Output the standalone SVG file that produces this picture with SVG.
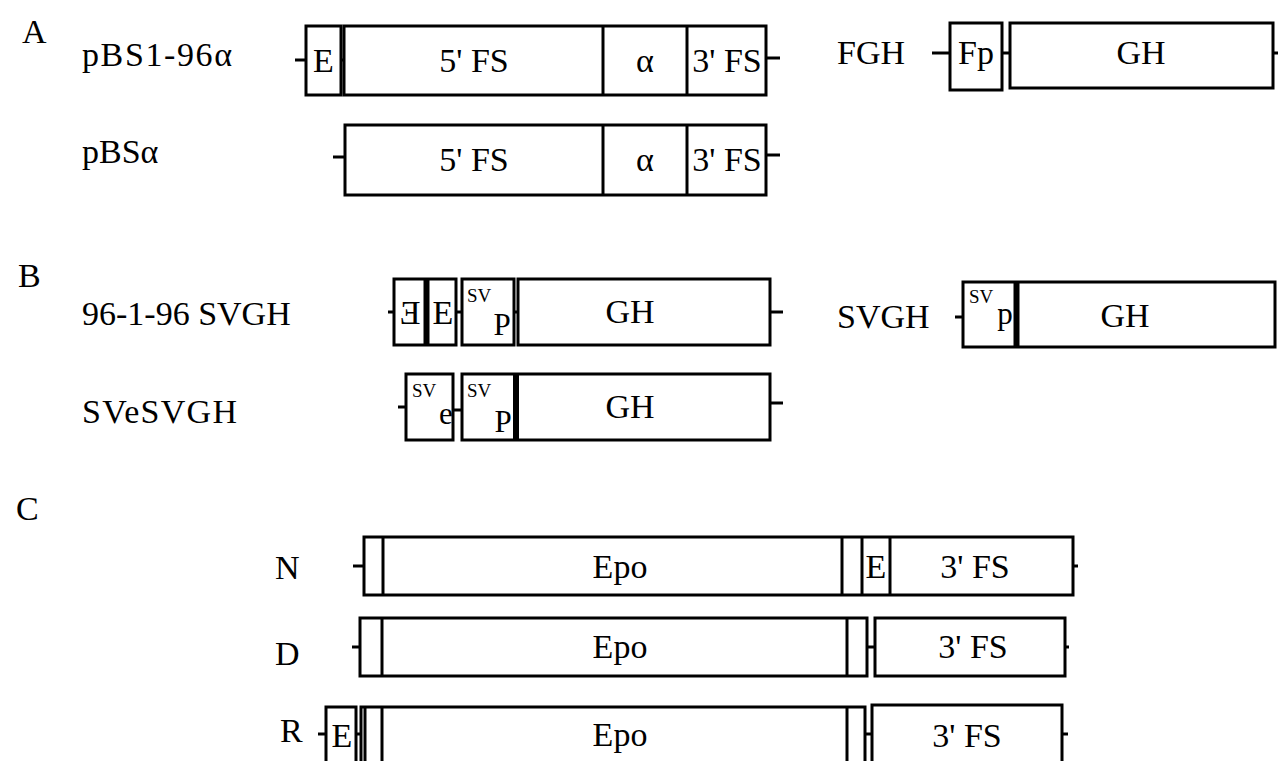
<svg xmlns="http://www.w3.org/2000/svg" width="1278" height="761" viewBox="0 0 1278 761">
<style>
rect.b{fill:#fff;stroke:#000;stroke-width:3}
line.d{stroke:#000;stroke-width:3}
line.t{stroke:#000;stroke-width:6}
line.s{stroke:#000;stroke-width:3}
text{font-family:"Liberation Serif","Times New Roman",serif;font-size:34px;fill:#000}
text.m{text-anchor:middle}
text.sm{font-size:19px}
text.sub{font-size:31px}
</style>
<rect width="1278" height="761" fill="#fff"/>
<g id="section-labels">
<text x="22" y="43">A</text>
<text x="18" y="287">B</text>
<text x="16" y="520">C</text>
</g>
<g id="connectors">
<line class="s" x1="295" y1="60" x2="306" y2="60"/>
<line class="s" x1="341" y1="60" x2="344" y2="60"/>
<line class="s" x1="766" y1="58" x2="780" y2="58"/>
<line class="s" x1="333" y1="157" x2="345" y2="157"/>
<line class="s" x1="766" y1="155" x2="780" y2="155"/>
<line class="s" x1="932" y1="53" x2="950" y2="53"/>
<line class="s" x1="1002" y1="53" x2="1010" y2="53"/>
<line class="s" x1="1273" y1="53" x2="1278" y2="53"/>
<line class="s" x1="388" y1="312" x2="394" y2="312"/>
<line class="s" x1="456" y1="312" x2="462" y2="312"/>
<line class="s" x1="514" y1="312" x2="518" y2="312"/>
<line class="s" x1="770" y1="312" x2="783" y2="312"/>
<line class="s" x1="398" y1="407" x2="406" y2="407"/>
<line class="s" x1="453" y1="410" x2="462" y2="410"/>
<line class="s" x1="770" y1="403" x2="783" y2="403"/>
<line class="s" x1="955" y1="317" x2="963" y2="317"/>
<line class="s" x1="353" y1="566" x2="364" y2="566"/>
<line class="s" x1="1073" y1="566" x2="1078" y2="566"/>
<line class="s" x1="352" y1="647" x2="360" y2="647"/>
<line class="s" x1="867" y1="647" x2="875" y2="647"/>
<line class="s" x1="1065" y1="647" x2="1069" y2="647"/>
<line class="s" x1="318" y1="734" x2="326" y2="734"/>
<line class="s" x1="356" y1="734" x2="361" y2="734"/>
<line class="s" x1="865" y1="734" x2="872" y2="734"/>
<line class="s" x1="1062" y1="734" x2="1068" y2="734"/>
</g>
<g id="pBS1-96a">
<text x="82" y="66" textLength="150" lengthAdjust="spacing">pBS1-96α</text>
<rect class="b" x="306" y="26" width="35" height="69"/>
<rect class="b" x="344" y="26" width="422" height="69"/>
<line class="d" x1="603" y1="26" x2="603" y2="95"/>
<line class="d" x1="687" y1="26" x2="687" y2="95"/>
<text class="m" x="323.5" y="72">E</text>
<text class="m" x="474" y="72">5' FS</text>
<text class="m" x="645" y="72">α</text>
<text class="m" x="727" y="72">3' FS</text>
</g>
<g id="pBSa">
<text x="82" y="163">pBSα</text>
<rect class="b" x="345" y="125" width="421" height="70"/>
<line class="d" x1="603" y1="125" x2="603" y2="195"/>
<line class="d" x1="687" y1="125" x2="687" y2="195"/>
<text class="m" x="474" y="171">5' FS</text>
<text class="m" x="645" y="171">α</text>
<text class="m" x="727" y="171">3' FS</text>
</g>
<g id="FGH">
<text x="837" y="64">FGH</text>
<rect class="b" x="950" y="23" width="52" height="67"/>
<rect class="b" x="1010" y="23" width="263" height="65"/>
<text class="m" x="976" y="64">Fp</text>
<text class="m" x="1141" y="64">GH</text>
</g>
<g id="96-1-96SVGH">
<text x="82" y="325">96-1-96 SVGH</text>
<rect class="b" x="394" y="279" width="62" height="66"/>
<line class="t" x1="426.5" y1="279" x2="426.5" y2="345"/>
<text class="m" transform="translate(410,324) scale(-1,1)">E</text>
<text class="m" x="443" y="324">E</text>
<rect class="b" x="462" y="279" width="52" height="66"/>
<text class="sm" x="467" y="302">SV</text>
<text class="sub m" x="502" y="335">P</text>
<rect class="b" x="518" y="279" width="252" height="66"/>
<text class="m" x="630" y="323">GH</text>
</g>
<g id="SVeSVGH">
<text x="82" y="423" textLength="155" lengthAdjust="spacing">SVeSVGH</text>
<rect class="b" x="406" y="374" width="47" height="66"/>
<text class="sm" x="412" y="397">SV</text>
<text class="sub m" x="446" y="424">e</text>
<rect class="b" x="462" y="374" width="308" height="66"/>
<line class="t" x1="516" y1="374" x2="516" y2="440"/>
<text class="sm" x="467" y="397">SV</text>
<text class="sub m" x="503" y="432">P</text>
<text class="m" x="630" y="418">GH</text>
</g>
<g id="SVGH">
<text x="837" y="328">SVGH</text>
<rect class="b" x="963" y="282" width="312" height="65"/>
<line class="t" x1="1016.5" y1="282" x2="1016.5" y2="347"/>
<text class="sm" x="969" y="303">SV</text>
<text class="sub m" x="1005" y="324">p</text>
<text class="m" x="1125" y="327">GH</text>
</g>
<g id="N">
<text x="275" y="579">N</text>
<rect class="b" x="364" y="537" width="709" height="58"/>
<line class="d" x1="383" y1="537" x2="383" y2="595"/>
<line class="d" x1="842" y1="537" x2="842" y2="595"/>
<line class="d" x1="862" y1="537" x2="862" y2="595"/>
<line class="d" x1="890" y1="537" x2="890" y2="595"/>
<text class="m" x="620" y="578">Epo</text>
<text class="m" x="876" y="578">E</text>
<text class="m" x="975" y="578">3' FS</text>
</g>
<g id="D">
<text x="275" y="665">D</text>
<rect class="b" x="360" y="618" width="507" height="58"/>
<line class="d" x1="382" y1="618" x2="382" y2="676"/>
<line class="d" x1="847" y1="618" x2="847" y2="676"/>
<text class="m" x="620" y="658">Epo</text>
<rect class="b" x="875" y="618" width="190" height="58"/>
<text class="m" x="973" y="658">3' FS</text>
</g>
<g id="R">
<text x="280" y="742">R</text>
<rect class="b" x="326" y="707" width="30" height="64"/>
<text class="m" x="342" y="747">E</text>
<rect class="b" x="361" y="707" width="504" height="64"/>
<line class="d" x1="365" y1="707" x2="365" y2="761"/>
<line class="d" x1="382" y1="707" x2="382" y2="761"/>
<line class="d" x1="847" y1="707" x2="847" y2="761"/>
<text class="m" x="620" y="746">Epo</text>
<rect class="b" x="872" y="705" width="190" height="66"/>
<text class="m" x="967" y="747">3' FS</text>
</g>
</svg>
